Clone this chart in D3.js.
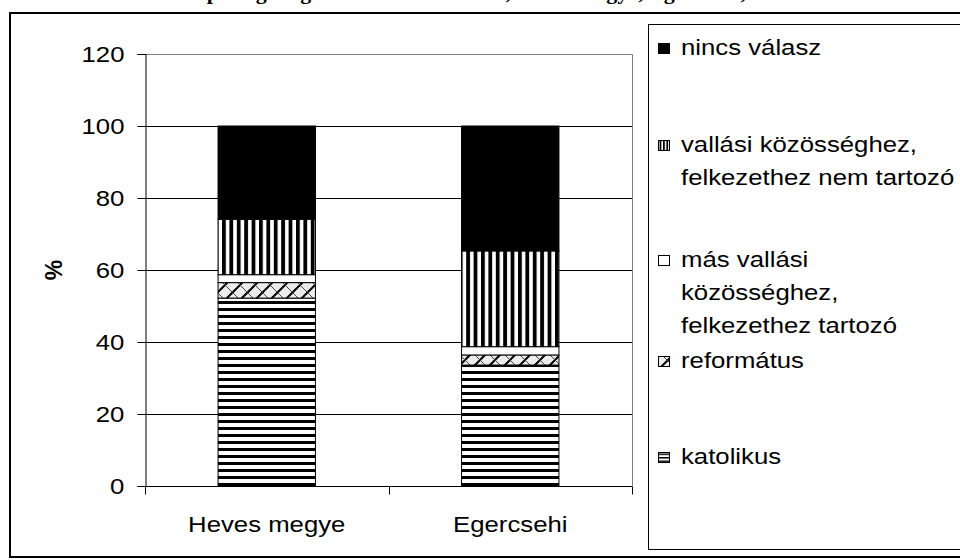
<!DOCTYPE html>
<html>
<head>
<meta charset="utf-8">
<script src="https://cdn.jsdelivr.net/npm/d3@7"></script>
<style>
  body { margin: 0; background: #fff; }
  svg { display: block; }
  text { font-family: "Liberation Sans", Arial, sans-serif; fill: #000; }
  .title { font-family: "Liberation Serif", "Times New Roman", serif; font-weight: bold; }
</style>
</head>
<body>
<div id="chart"></div>
<script>
// data
var categories = ["Heves megye", "Egercsehi"];
var katolikus = [52.2, 33.6];
var reformatus = [4.3, 2.8];
var masVallasi = [2.2, 2.3];
var nemTartozo = [15.4, 26.6];
var nincsValasz = [25.9, 34.7];
var yTicks = [0, 20, 40, 60, 80, 100, 120];

// series bottom -> top
var seriesKeys = ["katolikus", "reformatus", "mas", "nem", "nincs"];
var seriesValues = {
  katolikus: katolikus, reformatus: reformatus, mas: masVallasi,
  nem: nemTartozo, nincs: nincsValasz
};
// legend top -> bottom
var legendItems = [
  { key: "nincs", lines: ["nincs válasz"] },
  { key: "nem", lines: ["vallási közösséghez,", "felkezethez nem tartozó"] },
  { key: "mas", lines: ["más vallási", "közösséghez,", "felkezethez tartozó"] },
  { key: "reformatus", lines: ["református"] },
  { key: "katolikus", lines: ["katolikus"] }
];

var width = 960, height = 560;
var sx = 1.17; // chart text is stretched sideways in the original
var fontSize = "22px";

var svg = d3.select("#chart").append("svg")
  .attr("width", width)
  .attr("height", height);

// patterns
var defs = svg.append("defs");

// horizontal stripes; vertical stripes; trellis
function stripes(id, w, h, bar, vertical) {
  var p = defs.append("pattern").attr("id", id)
    .attr("patternUnits", "userSpaceOnUse").attr("width", w).attr("height", h);
  p.append("rect").attr("width", w).attr("height", h).attr("fill", "#fff");
  p.append("rect")
    .attr("width", vertical ? bar : w)
    .attr("height", vertical ? h : bar)
    .attr("fill", "#000");
}
stripes("p-katolikus", 8, 7, 3, false);
stripes("p-nem", 7.4, 8, 3.8, true);
stripes("l-katolikus", 8, 3.5, 1.5, false);
stripes("l-nem", 3.4, 8, 1.8, true);

var pD = defs.append("pattern").attr("id", "p-reformatus")
  .attr("patternUnits", "userSpaceOnUse").attr("width", 15).attr("height", 15);
pD.append("rect").attr("width", 15).attr("height", 15).attr("fill", "#ececec");
pD.append("path").attr("d", "M0,15L15,0M-2,2L2,-2M13,17L17,13")
  .attr("stroke", "#000").attr("stroke-width", 2);
pD.append("path").attr("d", "M0,0L15,15")
  .attr("stroke", "#444").attr("stroke-width", 1);

var fills = {
  katolikus: "url(#p-katolikus)",
  reformatus: "url(#p-reformatus)",
  mas: "#fff",
  nem: "url(#p-nem)",
  nincs: "#000"
};
var legendFills = {
  katolikus: "url(#l-katolikus)",
  reformatus: "url(#p-reformatus)",
  mas: "#fff",
  nem: "url(#l-nem)",
  nincs: "#000"
};

// title, cut off by the top edge as in the original
svg.append("text")
  .attr("class", "title")
  .attr("x", 480)
  .attr("y", -1)
  .attr("text-anchor", "middle")
  .style("font-size", "22px")
  .text("A népesség megoszlása vallás szerint, Heves megye, Egercsehi, 2001");

// outer frame
svg.append("rect")
  .attr("x", 10).attr("y", 13)
  .attr("width", 970).attr("height", 544)
  .attr("fill", "none").attr("stroke", "#000").attr("stroke-width", 2);

// scales
var plot = { left: 145, right: 632, top: 54, bottom: 486 };

var xScale = d3.scaleBand()
  .domain(categories)
  .range([plot.left, plot.right])
  .paddingInner(0.6)
  .paddingOuter(0.3);

var yScale = d3.scaleLinear()
  .domain([0, 120])
  .range([plot.bottom, plot.top]);

// plot area border (grey top + right)
svg.append("path")
  .attr("d", "M" + plot.left + "," + (plot.top + 0.5) + "H" + (plot.right + 0.5) + "V" + plot.bottom)
  .attr("fill", "none").attr("stroke", "#808080").attr("stroke-width", 1);

// gridlines
svg.append("g").selectAll("line")
  .data(yTicks.filter(function(d) { return d > 0 && d < 120; }))
  .enter().append("line")
  .attr("x1", plot.left).attr("x2", plot.right)
  .attr("y1", function(d) { return Math.round(yScale(d)) + 0.5; })
  .attr("y2", function(d) { return Math.round(yScale(d)) + 0.5; })
  .attr("stroke", "#000");

// stacked bars
var table = categories.map(function(c, i) {
  var row = { cat: c };
  seriesKeys.forEach(function(k) { row[k] = seriesValues[k][i]; });
  return row;
});
var stacked = d3.stack().keys(seriesKeys)(table);

svg.append("g").selectAll("g")
  .data(stacked)
  .enter().append("g")
  .attr("fill", function(d) { return fills[d.key]; })
  .selectAll("rect")
  .data(function(d) { return d; })
  .enter().append("rect")
  .attr("x", function(d) { return xScale(d.data.cat); })
  .attr("width", xScale.bandwidth())
  .attr("y", function(d) { return yScale(d[1]); })
  .attr("height", function(d) { return yScale(d[0]) - yScale(d[1]); })
  .attr("stroke", "#000")
  .attr("stroke-width", 1);

// y axis
var yAxis = d3.axisLeft(yScale).tickValues(yTicks).tickSize(8).tickPadding(10);
var yG = svg.append("g")
  .attr("transform", "translate(" + (plot.left + 0.5) + ",0)")
  .call(yAxis);
yG.select(".domain").attr("stroke", "#000");
yG.selectAll("line").attr("stroke", "#000");
yG.selectAll("text")
  .attr("transform", "scale(" + sx + ",1)")
  .attr("font-family", null)
  .style("font-size", fontSize);

// x axis: labels centred under bars, ticks on category boundaries
var xAxis = d3.axisBottom(xScale).tickSize(0).tickPadding(30);
var xG = svg.append("g")
  .attr("transform", "translate(0," + (plot.bottom + 0.5) + ")")
  .call(xAxis);
xG.select(".domain").attr("d", "M" + plot.left + ",0H" + plot.right).attr("stroke", "#000");
xG.selectAll("text")
  .attr("transform", "scale(" + sx + ",1)")
  .attr("font-family", null)
  .style("font-size", fontSize);

var bounds = d3.range(categories.length + 1).map(function(i) {
  return plot.left + i * xScale.step();
});
xG.selectAll(".bound")
  .data(bounds)
  .enter().append("line")
  .attr("class", "bound")
  .attr("x1", function(d) { return Math.round(d) + 0.5; })
  .attr("x2", function(d) { return Math.round(d) + 0.5; })
  .attr("y1", 0).attr("y2", 8)
  .attr("stroke", "#000");

// y axis title
svg.append("text")
  .attr("transform", "translate(62,270) rotate(-90)")
  .attr("text-anchor", "middle")
  .style("font-size", "23px")
  .style("font-weight", "bold")
  .text("%");

// legend
svg.append("rect")
  .attr("x", 648.5).attr("y", 24.5)
  .attr("width", 330).attr("height", 525)
  .attr("fill", "#fff").attr("stroke", "#000");

var legendY = { nincs: 55, nem: 152, mas: 267, reformatus: 368, katolikus: 464 };
var lineGap = 33;

var legend = svg.append("g").attr("class", "legend");
var items = legend.selectAll("g")
  .data(legendItems)
  .enter().append("g")
  .attr("transform", function(d) { return "translate(0," + legendY[d.key] + ")"; });

items.append("rect")
  .attr("x", 658.5).attr("y", -11.5)
  .attr("width", 11).attr("height", 10)
  .attr("fill", function(d) { return legendFills[d.key]; })
  .attr("stroke", "#000");

items.append("text")
  .attr("transform", "translate(681,0) scale(" + sx + ",1)")
  .style("font-size", fontSize)
  .selectAll("tspan")
  .data(function(d) { return d.lines; })
  .enter().append("tspan")
  .attr("x", 0)
  .attr("y", function(d, i) { return i * lineGap; })
  .text(function(d) { return d; });
</script>
</body>
</html>
